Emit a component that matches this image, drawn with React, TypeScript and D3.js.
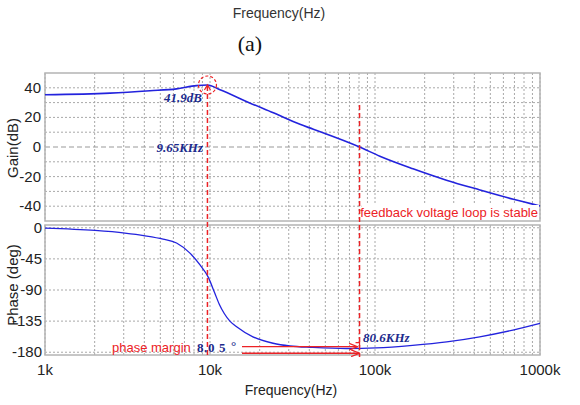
import React from "react";
import * as d3 from "d3";

// Bode plot of the voltage feedback loop
const GAIN_FREQ = [1000, 2480, 4330, 6270, 8290, 9650, 11500, 17400, 24200, 35100, 42300, 80600, 107000, 170000, 271000, 432000, 690000, 1000000];
const GAIN_DB = [35.3, 36.4, 38, 39.3, 41.5, 41.9, 38.7, 29.8, 23.1, 15.3, 12, 0, -6.2, -14.7, -22.4, -29, -35.3, -39.8];

const PHASE_FREQ = [1000, 2010, 3050, 4040, 5190, 6270, 7560, 8700, 9720, 10700, 11400, 12200, 13200, 14500, 18200, 24100, 30500, 41900, 67200, 101800, 169000, 272000, 431000, 685000, 1000000];
const PHASE_DEG = [-0.5, -3.9, -7.7, -11.6, -16.4, -22, -36.7, -53.7, -70.7, -94.8, -111, -124, -135, -143, -157.7, -167, -171, -173, -174.6, -173.7, -170, -165, -157.7, -148, -138.4];

const GAIN_TICKS = [40, 20, 0, -20, -40];
const GAIN_GRID = [40, 30, 20, 10, 0, -10, -20, -30, -40];
const PHASE_TICKS = [0, -45, -90, -135, -180];
const FREQ_TICKS = [1000, 10000, 100000, 1000000];
const FREQ_TICK_LABELS = ["1k", "10k", "100k", "1000k"];

const PEAK_FREQ = 9650;
const PEAK_GAIN = 41.9;
const CROSSOVER_FREQ = 80600;
const PHASE_MARGIN = 8.05;

const W = 580;
const H = 405;
const LEFT = 45;
const RIGHT = 540;
const GAIN_TOP = 73;
const GAIN_BOTTOM = 221;
const PHASE_TOP = 225;
const PHASE_BOTTOM = 355;

const SANS = "'Liberation Sans', Arial, sans-serif";
const SERIF = "'Liberation Serif', 'Times New Roman', serif";
const BLUE = "#2323dd";
const NAVY = "#1c2a8c";
const RED = "#ec2226";
const GRID = "#a8a8a8";
const FRAME = "#b4b4b4";

export default function App() {
  const x = d3.scaleLog().domain([1000, 1e6]).range([LEFT, RIGHT]);
  const yG = d3.scaleLinear().domain([-50, 50]).range([GAIN_BOTTOM, GAIN_TOP]);
  const yP = d3.scaleLinear().domain([-184, 4]).range([PHASE_BOTTOM, PHASE_TOP]);

  const minor: number[] = [];
  for (const dec of [1000, 10000, 100000]) {
    for (let k = 1; k <= 9; k++) minor.push(k * dec);
  }
  minor.push(1e6);

  const gainPts = GAIN_FREQ.map((f, i) => [x(f), yG(GAIN_DB[i])] as [number, number]);
  const phasePts = PHASE_FREQ.map((f, i) => [x(f), yP(PHASE_DEG[i])] as [number, number]);
  const line = d3.line().curve(d3.curveMonotoneX);

  const xPeak = x(PEAK_FREQ);
  const yPeak = yG(PEAK_GAIN);
  const xCross = x(CROSSOVER_FREQ);
  const yPM = yP(-180 + PHASE_MARGIN);
  const y180 = yP(-180);

  return (
    <svg width={W} height={H} style={{ position: "absolute", left: 0, top: 0, background: "#fff" }}>
      <defs>
        <marker id="arrowR" viewBox="0 0 10 10" refX="10" refY="5" markerWidth="6" markerHeight="6" orient="auto">
          <path d="M0,1 L10,5 L0,9" fill="none" stroke={RED} strokeWidth="1.5" />
        </marker>
      </defs>
      <rect width={W} height={H} fill="#fff" />

      <text x={279} y={18} textAnchor="middle" fontFamily={SANS} fontSize={14} fill="#333">Frequency(Hz)</text>
      <text x={250} y={51} textAnchor="middle" fontFamily={SERIF} fontSize={22} fill="#111">(a)</text>

      {/* grids */}
      {minor.map((f) => (
        <g key={"vg" + f}>
          <line x1={x(f)} x2={x(f)} y1={GAIN_TOP} y2={GAIN_BOTTOM} stroke={GRID} strokeWidth={1} strokeDasharray="2,2" />
          <line x1={x(f)} x2={x(f)} y1={PHASE_TOP} y2={PHASE_BOTTOM} stroke={GRID} strokeWidth={1} strokeDasharray="2,2" />
        </g>
      ))}
      {GAIN_GRID.map((v) => (
        <line key={"gg" + v} x1={LEFT} x2={RIGHT} y1={yG(v)} y2={yG(v)} stroke={v === 0 ? "#999" : GRID} strokeWidth={1} strokeDasharray={v === 0 ? "5,3" : "2,2"} />
      ))}
      {PHASE_TICKS.map((v) => (
        <line key={"pg" + v} x1={LEFT} x2={RIGHT} y1={yP(v)} y2={yP(v)} stroke={GRID} strokeWidth={1} strokeDasharray="2,2" />
      ))}

      {/* panel frames */}
      <rect x={LEFT} y={GAIN_TOP} width={RIGHT - LEFT} height={GAIN_BOTTOM - GAIN_TOP} fill="none" stroke={FRAME} strokeWidth={1.5} />
      <rect x={LEFT} y={PHASE_TOP} width={RIGHT - LEFT} height={PHASE_BOTTOM - PHASE_TOP} fill="none" stroke={FRAME} strokeWidth={1.5} />

      {/* axis labels */}
      {GAIN_TICKS.map((v) => (
        <text key={"gt" + v} x={41} y={yG(v) + 5} textAnchor="end" fontFamily={SANS} fontSize={15} fill="#222">{v}</text>
      ))}
      {PHASE_TICKS.map((v) => (
        <text key={"pt" + v} x={42} y={yP(v) + 5} textAnchor="end" fontFamily={SANS} fontSize={15} fill="#222">{v}</text>
      ))}
      {FREQ_TICKS.map((f, i) => (
        <text key={"ft" + f} x={x(f)} y={375} textAnchor="middle" fontFamily={SANS} fontSize={15} fill="#222">{FREQ_TICK_LABELS[i]}</text>
      ))}
      <text transform={`translate(18,148) rotate(-90)`} textAnchor="middle" fontFamily={SANS} fontSize={15} fill="#222">Gain(dB)</text>
      <text transform={`translate(18,285) rotate(-90)`} textAnchor="middle" fontFamily={SANS} fontSize={15} fill="#222">Phase (deg)</text>
      <text x={291} y={395} textAnchor="middle" fontFamily={SANS} fontSize={14} fill="#222">Frequency(Hz)</text>

      {/* curves */}
      <path d={line(gainPts) || ""} fill="none" stroke={BLUE} strokeWidth={1.6} />
      <path d={line(phasePts) || ""} fill="none" stroke={BLUE} strokeWidth={1.3} />

      {/* peak marker */}
      <line x1={xPeak} x2={xPeak} y1={yPeak + 1} y2={PHASE_BOTTOM} stroke={RED} strokeWidth={1.5} strokeDasharray="5,3" />
      <path d={`M${xPeak - 3},${yPeak + 5} L${xPeak},${yPeak} L${xPeak + 3},${yPeak + 5}`} fill="none" stroke={RED} strokeWidth={1.2} />
      <circle cx={xPeak} cy={yPeak} r={9} fill="none" stroke={RED} strokeWidth={1.2} strokeDasharray="3,2" />
      <text x={202} y={102} textAnchor="end" fontFamily={SERIF} fontSize={13} fontWeight="bold" fontStyle="italic" fill={NAVY}>41.9dB</text>
      <text x={203} y={152} textAnchor="end" fontFamily={SERIF} fontSize={13} fontWeight="bold" fontStyle="italic" fill={NAVY}>9.65KHz</text>

      {/* crossover marker */}
      <line x1={xCross} x2={xCross} y1={105} y2={357} stroke={RED} strokeWidth={1.5} strokeDasharray="5,3" />
      <rect x={xCross + 2} y={205} width={RIGHT - xCross - 3} height={15} fill="#fff" />
      <text x={538} y={217} textAnchor="end" fontFamily={SANS} fontSize={13} fill={RED}>feedback voltage loop is stable</text>
      <text x={363} y={342} fontFamily={SERIF} fontSize={13} fontWeight="bold" fontStyle="italic" fill={NAVY}>80.6KHz</text>

      {/* phase margin */}
      <text x={112} y={352} fontFamily={SANS} fontSize={13} fill={RED}>phase margin</text>
      <text y={352} fontFamily={SERIF} fontSize={13} fontWeight="bold" fill={NAVY}>
        <tspan x={197}>8</tspan>
        <tspan x={204}>.</tspan>
        <tspan x={208}>0</tspan>
        <tspan x={219}>5</tspan>
        <tspan x={231} dy={-2}>°</tspan>
      </text>
      <line x1={242} x2={xCross - 2} y1={yPM} y2={yPM} stroke={RED} strokeWidth={1.4} markerEnd="url(#arrowR)" />
      <line x1={242} x2={xCross} y1={y180 + 1} y2={y180 + 1} stroke={RED} strokeWidth={1.4} markerEnd="url(#arrowR)" />
      <path d={`M${xCross - 4},${yPM - 4} L${xCross},${yPM - 4} L${xCross},${yPM}`} fill="none" stroke={RED} strokeWidth={1.2} />
    </svg>
  );
}
